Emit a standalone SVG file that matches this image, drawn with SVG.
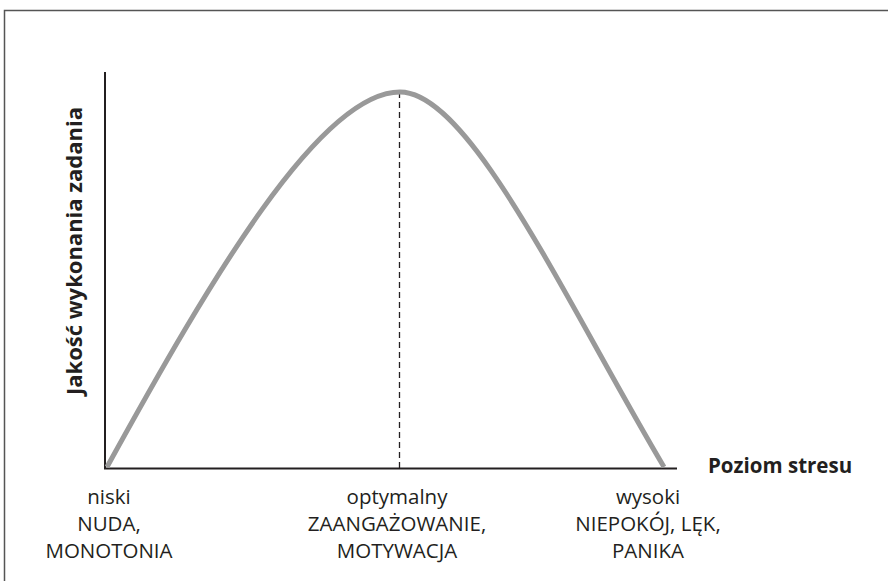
<svg xmlns="http://www.w3.org/2000/svg" width="888" height="581" viewBox="0 0 888 581">
<style>
.lbl{font-family:"Open Sans","Liberation Sans",sans-serif;font-size:20.5px;fill:#231f20;text-anchor:middle}
.ax{font-family:"Open Sans","Liberation Sans",sans-serif;font-weight:bold;fill:#231f20}
.axis{stroke:#231f20;stroke-width:2;fill:none}
</style>
<rect width="888" height="581" fill="#fff"/>
<path d="M4.5,600 V10.5 H900" fill="none" stroke="#555" stroke-width="1.5"/>
<g id="connectors">
<path class="axis" d="M105,72 V468.5 H677"/>
<path d="M399.5,92 V468" stroke="#231f20" stroke-width="1.3" stroke-dasharray="6,4" fill="none"/>
</g>
<g id="curve">
<path d="M107,467 C210,280 320,92 400,92 C470,92 565,300 664,467" fill="none" stroke="#999" stroke-width="5"/>
</g>
<g id="y-label"><text class="ax" font-size="22" transform="translate(82,251) rotate(-90)" text-anchor="middle">Jakość wykonania zadania</text></g>
<g id="x-label"><text class="ax" font-size="20.5" x="708" y="473">Poziom stresu</text></g>
<g id="low"><text class="lbl" x="109" y="504">niski</text><text class="lbl" x="109" y="531">NUDA,</text><text class="lbl" x="109" y="558">MONOTONIA</text></g>
<g id="opt"><text class="lbl" x="397" y="504">optymalny</text><text class="lbl" x="397" y="531">ZAANGAŻOWANIE,</text><text class="lbl" x="397" y="558">MOTYWACJA</text></g>
<g id="high"><text class="lbl" x="648" y="504">wysoki</text><text class="lbl" x="648" y="531">NIEPOKÓJ, LĘK,</text><text class="lbl" x="648" y="558">PANIKA</text></g>
</svg>
